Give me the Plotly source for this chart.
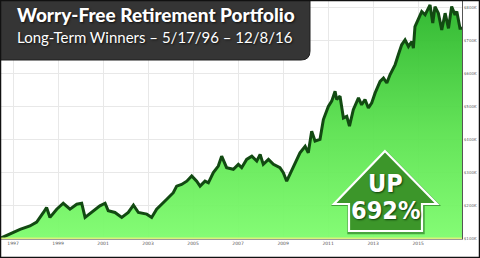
import plotly.graph_objects as go

# ---- data (decimal year, portfolio value in $K) ----
years = [1996.42, 1996.86, 1997.31, 1997.75, 1998.05, 1998.35, 1998.49, 1998.64, 1998.94,
         1999.23, 1999.38, 1999.53, 1999.83, 2000.05, 2000.20, 2000.49, 2000.86, 2001.09,
         2001.23, 2001.53, 2001.83, 2002.12, 2002.35, 2002.57, 2002.94, 2003.16, 2003.38,
         2003.83, 2004.12, 2004.27, 2004.49, 2004.72, 2004.94, 2005.16, 2005.31, 2005.53,
         2005.68, 2005.90, 2006.12, 2006.27, 2006.49, 2006.79, 2007.01, 2007.16, 2007.38,
         2007.61, 2007.83, 2007.98, 2008.12, 2008.35, 2008.57, 2008.86, 2009.01, 2009.16,
         2009.38, 2009.53, 2009.75, 2009.98, 2010.12, 2010.27, 2010.42, 2010.64, 2010.79,
         2011.01, 2011.16, 2011.31, 2011.38, 2011.53, 2011.68, 2011.83, 2011.95, 2012.12,
         2012.35, 2012.49, 2012.64, 2012.79, 2012.94, 2013.09, 2013.31, 2013.46, 2013.61,
         2013.75, 2013.98, 2014.12, 2014.27, 2014.42, 2014.57, 2014.72, 2014.79, 2014.86,
         2015.01, 2015.16, 2015.31, 2015.53, 2015.65, 2015.75, 2015.90, 2016.05, 2016.20,
         2016.35, 2016.49, 2016.64, 2016.72, 2016.86, 2016.95]
values = [100, 113, 128, 138, 150, 179, 194, 164, 189,
          207, 199, 189, 204, 207, 164, 179, 199, 207,
          184, 179, 164, 179, 201, 179, 174, 164, 189,
          219, 239, 259, 264, 274, 290, 274, 259, 274,
          269, 300, 320, 350, 315, 310, 325, 315, 340,
          350, 335, 355, 325, 340, 325, 315, 300, 274,
          305, 330, 360, 380, 360, 426, 396, 401, 461,
          501, 517, 547, 522, 532, 466, 471, 441, 491,
          527, 506, 522, 496, 512, 542, 577, 587, 572,
          597, 628, 658, 688, 703, 683, 698, 678, 743,
          764, 789, 779, 809, 754, 804, 784, 733, 784,
          738, 804, 779, 789, 738, 738]
x_ticks = [1997, 1999, 2001, 2003, 2005, 2007, 2009, 2011, 2013, 2015]
y_ticks = [100, 200, 300, 400, 500, 600, 700, 800]
y_tick_labels = ["$100K", "$200K", "$300K", "$400K", "$500K", "$600K", "$700K", "$800K"]
title = "Worry-Free Retirement Portfolio"
subtitle = "Long-Term Winners \u2013 5/17/96 \u2013 12/8/16"
badge_lines = ["UP", "692%"]

W, H = 480, 258
ML, MR, MT, MB = 0, 18, 0, 19
PW, PH = W - ML - MR, H - MT - MB


def px(x):
    return (x - ML) / PW


def py(y):
    return (H - MB - y) / PH


fig = go.Figure()
base = 98.5
fig.add_trace(go.Scatter(x=years, y=[base] * len(years), mode="lines",
                         line=dict(width=0), hoverinfo="skip", showlegend=False))
fig.add_trace(go.Scatter(
    x=years, y=values, mode="lines", fill="tonexty",
    line=dict(color="#124a12", width=3),
    fillgradient=dict(type="vertical", start=100, stop=820,
                      colorscale=[[0, "rgba(126,252,110,0.95)"],
                                  [0.45, "rgba(92,226,80,0.95)"],
                                  [1, "rgba(40,180,40,0.95)"]]),
    showlegend=False))

shapes = []
shapes.append(dict(type="line", xref="x", yref="y", x0=years[0], x1=years[-1],
                   y0=100, y1=100, line=dict(color="#d8f27c", width=2), layer="above"))

bx, by, r = 310, 60, 9
path = (f"M {px(0)},{py(0)} L {px(bx)},{py(0)} L {px(bx)},{py(by - r)} "
        f"Q {px(bx)},{py(by)} {px(bx - r)},{py(by)} L {px(0)},{py(by)} Z")
shapes.append(dict(type="path", xref="paper", yref="paper", path=path,
                   fillcolor="#353535", line=dict(color="#1e1e1e", width=1), layer="above"))


def arrow_path(dx=0, dy=0, grow=0):
    pts = [(385, 151 - grow), (334 - grow * 1.6, 204 + grow * 0.5), (349 - grow, 204 + grow * 0.5),
           (349 - grow, 231 + grow), (422 + grow, 231 + grow), (422 + grow, 204 + grow * 0.5),
           (437 + grow * 1.6, 204 + grow * 0.5)]
    return "M " + " L ".join(f"{px(a + dx)},{py(b + dy)}" for a, b in pts) + " Z"


shapes.append(dict(type="path", xref="paper", yref="paper", path=arrow_path(0.5, 1, 2.2),
                   fillcolor="rgba(0,60,0,0.45)", line=dict(width=0), layer="above"))
shapes.append(dict(type="path", xref="paper", yref="paper", path=arrow_path(0, 0, 0),
                   fillcolor="#3c962a", line=dict(color="white", width=2.2), layer="above"))

shapes.append(dict(type="rect", xref="paper", yref="paper",
                   x0=px(0.5), x1=px(W - 0.5), y0=py(H - 0.5), y1=py(0.5),
                   line=dict(color="#111111", width=1.5), fillcolor="rgba(0,0,0,0)", layer="above"))

shadow = "1px 1px 2px rgba(0,0,0,0.7)"
annotations = [
    dict(text=title, x=px(15), y=py(28), xref="paper", yref="paper",
         xanchor="left", yanchor="bottom", showarrow=False,
         font=dict(family="Lato", size=19, color="white", weight=900, shadow=shadow)),
    dict(text=subtitle, x=px(15), y=py(48), xref="paper", yref="paper",
         xanchor="left", yanchor="bottom", showarrow=False,
         font=dict(family="Lato", size=15, color="white", shadow=shadow)),
]
for txt, yc in zip(badge_lines, [183, 210]):
    annotations.append(dict(text=txt, x=px(385), y=py(yc), xref="paper", yref="paper",
                            xanchor="center", yanchor="middle", showarrow=False,
                            font=dict(family="DejaVu Sans Condensed", size=25, color="white",
                                      weight="bold", shadow="1px 1px 2px rgba(0,40,0,0.8)")))

fig.update_layout(
    width=W, height=H, margin=dict(l=ML, r=MR, t=MT, b=MB),
    paper_bgcolor="white", plot_bgcolor="white",
    shapes=shapes, annotations=annotations,
    xaxis=dict(range=[1996.42, 2016.95], tickvals=x_ticks, ticktext=[str(v) for v in x_ticks],
               showgrid=True, gridcolor="#e8e8e8", gridwidth=1, zeroline=False,
               showline=True, linecolor="#9a9a9a", linewidth=1,
               tickfont=dict(family="DejaVu Sans", size=4.5, color="#555555"), ticks=""),
    yaxis=dict(range=[base, 824], side="right", tickvals=y_ticks, ticktext=y_tick_labels,
               showgrid=True, gridcolor="#e8e8e8", gridwidth=1, zeroline=False,
               showline=True, linecolor="#555555", linewidth=1, mirror=False,
               tickfont=dict(family="DejaVu Sans", size=4, color="#666666"), ticks=""),
)
fig.write_html("out.html")
